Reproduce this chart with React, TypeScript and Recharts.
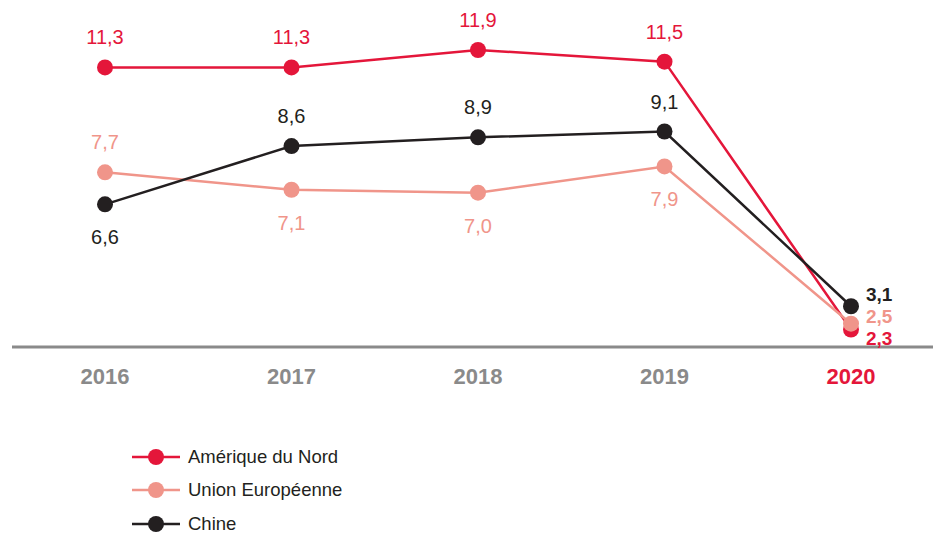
import React from 'react';
import { LineChart, Line, XAxis, YAxis, LabelList } from 'recharts';

const years = ['2016', '2017', '2018', '2019', '2020'];
const ameriqueNord = [11.3, 11.3, 11.9, 11.5, 2.3];
const unionEuropeenne = [7.7, 7.1, 7.0, 7.9, 2.5];
const chine = [6.6, 8.6, 8.9, 9.1, 3.1];

const RED = '#e4163a';
const SALMON = '#f0958a';
const BLACK = '#231f20';
const GRAY = '#8a8a8a';
const FONT = '"Liberation Sans", Arial, Helvetica, sans-serif';

const data = years.map((year, i) => ({
  year,
  na: ameriqueNord[i],
  ue: unionEuropeenne[i],
  cn: chine[i],
}));

// place: label above/below each point; endDy: nudge for the 2020 labels so they don't collide
const series = [
  { key: 'na', name: 'Amérique du Nord', color: RED, place: ['top', 'top', 'top', 'top'], endDy: 8 },
  { key: 'ue', name: 'Union Européenne', color: SALMON, place: ['top', 'bottom', 'bottom', 'bottom'], endDy: -8 },
  { key: 'cn', name: 'Chine', color: BLACK, place: ['bottom', 'top', 'top', 'top'], endDy: -12 },
];

const fmt = (v: number) => v.toFixed(1).replace('.', ',');

function makeLabel(color: string, place: string[], endDy: number) {
  return (props: any) => {
    const { x, y, value, index } = props;
    if (index === years.length - 1) {
      return (
        <text x={x + 15} y={y + 7 + endDy} fill={color} fontSize={19} fontWeight={700} fontFamily={FONT} textAnchor="start">
          {fmt(value)}
        </text>
      );
    }
    const dy = place[index] === 'top' ? -23 : 40;
    return (
      <text x={x} y={y + dy} fill={color} fontSize={20} fontFamily={FONT} textAnchor="middle">
        {fmt(value)}
      </text>
    );
  };
}

const YearTick = (props: any) => {
  const { x, y, payload } = props;
  const last = payload.value === years[years.length - 1];
  return (
    <text x={x} y={y + 29} textAnchor="middle" fontSize={22} fontWeight={700}
      fontFamily={'"Liberation Sans Narrow", "Liberation Sans", Arial, sans-serif'}
      fill={last ? RED : GRAY}>
      {payload.value}
    </text>
  );
};

export default function App() {
  return (
    <div style={{ position: 'absolute', left: 0, top: 0, width: 933, height: 533, background: '#fff', overflow: 'hidden' }}>
      <LineChart width={933} height={400} data={data} margin={{ top: 20, right: 0, left: 12, bottom: 13 }}>
        <XAxis
          dataKey="year"
          height={40}
          padding={{ left: 93, right: 82 }}
          axisLine={{ stroke: GRAY, strokeWidth: 3 }}
          tickLine={false}
          tick={<YearTick />}
          interval={0}
        />
        <YAxis hide domain={[1.7, 12.93]} />
        {series.map((s) => (
          <Line
            key={s.key}
            dataKey={s.key}
            stroke={s.color}
            strokeWidth={2.5}
            dot={{ r: 8, fill: s.color, stroke: 'none' }}
            isAnimationActive={false}
          >
            <LabelList dataKey={s.key} content={makeLabel(s.color, s.place, s.endDy)} />
          </Line>
        ))}
      </LineChart>
      <div style={{ position: 'absolute', left: 132, top: 440, fontFamily: FONT, fontSize: 18.5, color: BLACK, lineHeight: '20px' }}>
        {series.map((s) => (
          <div key={s.key} style={{ display: 'flex', alignItems: 'center', height: 33.5 }}>
            <svg width={50} height={20} style={{ marginRight: 6 }}>
              <line x1={0} y1={10} x2={48} y2={10} stroke={s.color} strokeWidth={2.5} />
              <circle cx={24} cy={10} r={8} fill={s.color} />
            </svg>
            <span>{s.name}</span>
          </div>
        ))}
      </div>
    </div>
  );
}
